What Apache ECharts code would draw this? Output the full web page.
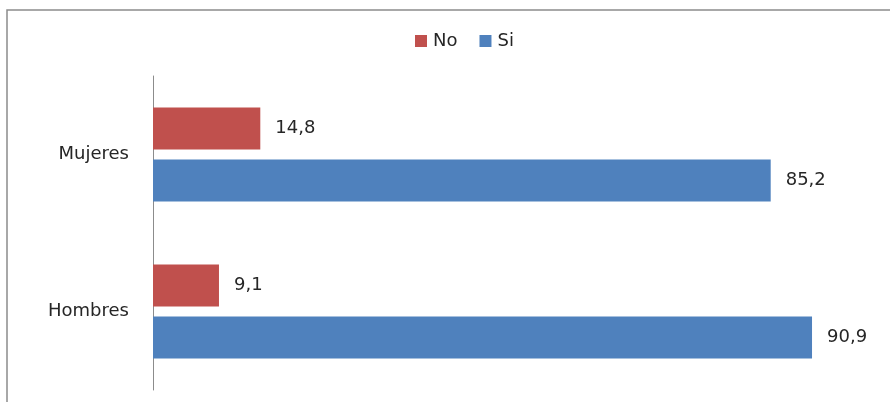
<!DOCTYPE html>
<html><head><meta charset="utf-8">
<script src="https://cdn.jsdelivr.net/npm/echarts@6/dist/echarts.min.js"></script>
<style>html,body{margin:0;padding:0;background:#fff}#c{width:890px;height:402px}</style>
</head><body><div id="c"></div>
<script>
const categories = ['Hombres', 'Mujeres'];
const noValues = [9.1, 14.8];
const siValues = [90.9, 85.2];
const seriesNames = ['No', 'Si'];

const FONT = 'DejaVu Sans';
const chart = echarts.init(document.getElementById('c'));
const fmt = p => String(p.value).replace('.', ',');
const labelStyle = {show: true, position: 'right', distance: 15, formatter: fmt,
  color: '#262626', fontSize: 18, fontFamily: FONT};
chart.setOption({
  animation: false,
  graphic: [{type: 'rect', shape: {x: 7, y: 10, width: 900, height: 420},
    style: {fill: 'none', stroke: '#8c8c8c', lineWidth: 1.5}, silent: true}],
  legend: {data: seriesNames, top: 27, left: 410, itemWidth: 12, itemHeight: 12,
    itemGap: 22, icon: 'rect',
    textStyle: {fontSize: 18, color: '#262626', fontFamily: FONT, padding: [0, 0, 0, 1]}},
  grid: {left: 153, right: 12, top: 76, bottom: 12},
  xAxis: {type: 'value', min: 0, max: 100, show: false},
  yAxis: {type: 'category', data: categories,
    axisLine: {lineStyle: {color: '#8c8c8c'}}, axisTick: {show: false},
    axisLabel: {margin: 24, fontSize: 18, color: '#262626', fontFamily: FONT}},
  series: [
    {name: 'No', type: 'bar', data: noValues, barWidth: 42, barGap: '24%',
      barCategoryGap: '40%', itemStyle: {color: '#C0504D'}, label: labelStyle},
    {name: 'Si', type: 'bar', data: siValues, barWidth: 42, barGap: '24%',
      itemStyle: {color: '#4F81BD'}, label: labelStyle}
  ]
});
</script></body></html>
